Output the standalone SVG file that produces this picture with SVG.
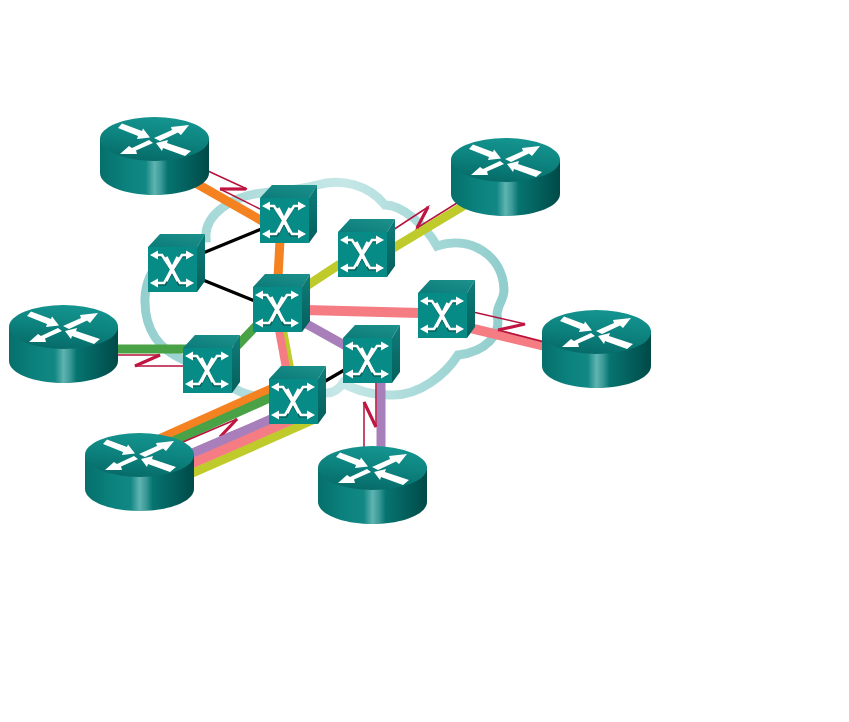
<svg xmlns="http://www.w3.org/2000/svg" xmlns:xlink="http://www.w3.org/1999/xlink" width="849" height="722" viewBox="0 0 849 722">
<style>
.c{fill:none;stroke-linecap:butt;stroke-linejoin:miter}
.o{stroke:#f58220;stroke-width:9}
.g{stroke:#4aa246;stroke-width:9}
.p{stroke:#a87fba;stroke-width:9}
.k{stroke:#f47c82;stroke-width:10}
.y{stroke:#bfcb2a;stroke-width:9}
.b{stroke:#000;stroke-width:3.2}
.s{stroke:#b5123c;stroke-width:1.5}
.z{stroke:#c01540;stroke-width:3.2}
.a{fill:#fff}
.x{fill:none;stroke:#fff;stroke-width:2.6}
.xs{fill:none;stroke:#05605d;stroke-width:2.6}
</style>
<defs>
<linearGradient id="cl" gradientUnits="userSpaceOnUse" x1="140" y1="0" x2="510" y2="0">
<stop offset="0" stop-color="#93cfce"/><stop offset=".22" stop-color="#a9dad9"/><stop offset=".55" stop-color="#c6e7e7"/><stop offset=".78" stop-color="#a6d9d8"/><stop offset="1" stop-color="#8fcdcc"/>
</linearGradient>
<linearGradient id="rs" x1="0" y1="0" x2="1" y2="0">
<stop offset="0" stop-color="#066f6b"/><stop offset=".25" stop-color="#0b827e"/><stop offset=".42" stop-color="#128884"/><stop offset=".5" stop-color="#5fb3b0"/><stop offset=".56" stop-color="#3a9a97"/><stop offset=".62" stop-color="#067470"/><stop offset="1" stop-color="#004a48"/>
</linearGradient>
<linearGradient id="rt" x1="0.35" y1="1" x2="0.6" y2="0">
<stop offset="0" stop-color="#066a67"/><stop offset=".5" stop-color="#0c827e"/><stop offset="1" stop-color="#159590"/>
</linearGradient>
<linearGradient id="st" x1="0" y1="1" x2="1" y2="0">
<stop offset="0" stop-color="#0b7b78"/><stop offset="1" stop-color="#1d918d"/>
</linearGradient>
<linearGradient id="ss" x1="0" y1="0" x2="0" y2="1">
<stop offset="0" stop-color="#0f7d7a"/><stop offset="1" stop-color="#045f5c"/>
</linearGradient>
<g id="router">
<path d="M0 22V56C0 68 24 78 54.500 78S109 68 109 56V22Z" fill="url(#rs)"/>
<ellipse cx="54.500" cy="22" rx="54.500" ry="22" fill="url(#rt)"/>
<polygon class="a" points="18,11 22,6.500 42,14 43,11.500 50,20.500 37,22 38,19"/>
<polygon class="a" points="54,21 72,13 71,10 89,8 81,18 78,15.500 60,24"/>
<polygon class="a" points="49,23 53,26 36,33.500 37,37 20,37 29,29 32,31"/>
<polygon class="a" points="56,26 68,23 67,26 91,34 85,39 63,31 62,34"/>
</g>
<g id="switch">
<polygon points="0,13 12,0 57,0 49,13" fill="url(#st)"/>
<polygon points="49,13 57,0 57,47 49,58" fill="url(#ss)"/>
<polygon points="0,13 49,13 49,58 0,58" fill="#078b87"/>
<path class="xs" d="M6 22.500H15L31 50.500H43M43 22.500H33L17 50.500H6"/>
<path class="x" d="M6 21H14L32 49H43M43 21H34L16 49H6"/>
<path class="x" d="M18 23L30 47M30 23L18 47" style="stroke-width:3.400"/>
<polygon class="a" points="2,21 10,16.500 10,25.500"/><polygon class="a" points="46,21 38,16.500 38,25.500"/>
<polygon class="a" points="2,49 10,44.500 10,53.500"/><polygon class="a" points="46,49 38,44.500 38,53.500"/>
</g>
</defs>
<rect width="849" height="722" fill="#fff"/>
<path id="cloud" fill="none" stroke="url(#cl)" stroke-width="9" d="M184 360C160 350 144 330 145 298C146 270 170 240 206 238C204 215 232 196 262 193C285 190 300 190 317 185C340 178 368 184 385 205C402 205 425 225 437 246C470 235 503 255 504 290C504 300 497 305 497 315C502 335 485 352 458 355C445 375 420 395 393 395C375 396 355 390 343 383C340 388 333 394 325 393C300 402 255 400 237 390C225 385 195 370 184 360Z"/>
<g id="connectors">
<path class="c o" d="M192 181L264 222"/>
<path class="c s" d="M208 171L247 189H220L260 209"/>
<path class="c z" d="M220 189H246"/>
<path class="c b" d="M203 253L264 228M203 280L257 302"/>
<path class="c o" d="M280 240L278 278"/>
<path class="c y" d="M305 287L340 264M390 250L465 205"/>
<path class="c s" d="M393 230L428 207L417 228L457 203"/>
<path class="c z" d="M428 207L417 228"/>
<path class="c k" d="M305 310L420 313M470 328L545 346"/>
<path class="c s" d="M473 312L525 324L498 330L544 342"/>
<path class="c z" d="M525 324L498 330"/>
<path class="c p" d="M303 322L346 346M381 380V448"/>
<path class="c s" d="M364 447V402L376 427V381"/>
<path class="c z" d="M364 402L376 427"/>
<path class="c b" d="M322 383L346 369"/>
<path class="c y" d="M284 330L291 368" style="stroke-width:6"/>
<path class="c k" d="M279 330L286 368" style="stroke-width:8"/>
<path class="c g" d="M116 349H186M236 347L256 326"/>
<path class="c s" d="M116 355H160L135 366H184"/>
<path class="c z" d="M160 355L135 366"/>
<path class="c o" d="M160 438.500L272 388.500"/>
<path class="c g" d="M172 441.600L272 397"/>
<path class="c s" d="M183 442L237 419L220 437L272 416"/>
<path class="c z" d="M237 419L220 437"/>
<path class="c y" d="M188 475L316 418.500"/>
<path class="c k" d="M188 465L300 416"/>
<path class="c p" d="M188 455L285 413"/>
</g>
<use id="router-1" href="#router" x="100" y="117"/>
<use id="router-2" href="#router" x="451" y="138"/>
<use id="router-3" href="#router" x="9" y="305"/>
<use id="router-4" href="#router" x="542" y="310"/>
<use id="router-5" href="#router" x="85" y="433"/>
<use id="router-6" href="#router" x="318" y="446"/>
<use id="switch-1" href="#switch" x="260" y="185"/>
<use id="switch-2" href="#switch" x="148" y="234"/>
<use id="switch-3" href="#switch" x="338" y="219"/>
<use id="switch-4" href="#switch" x="253" y="274"/>
<use id="switch-5" href="#switch" x="418" y="280"/>
<use id="switch-6" href="#switch" x="183" y="335"/>
<use id="switch-7" href="#switch" x="343" y="325"/>
<use id="switch-8" href="#switch" x="269" y="366"/>
</svg>
